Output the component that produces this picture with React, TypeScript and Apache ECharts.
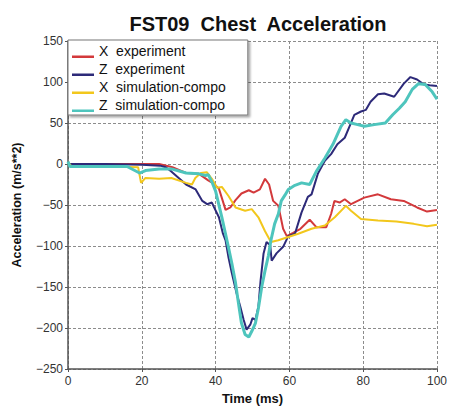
import React, { useEffect, useRef } from "react";
import * as echarts from "echarts";

const title = "FST09  Chest  Acceleration";
const seriesNames = ["X  experiment", "Z  experiment", "X  simulation-compo", "Z  simulation-compo"];
const seriesColors = ["#d3393b", "#2d2a79", "#f2c71c", "#4ec5bd"];
const seriesWidths = [2, 2, 2, 3];

// [time (ms), acceleration (m/s**2)]
const xExperiment: number[][] = [
  [0, 0], [10, 0], [20, 0], [24.7, 0], [28.3, -4], [32, -11], [35.5, -12], [38, -20], [39.5, -24],
  [40.9, -30], [42.7, -56], [44, -53], [45.4, -44], [47, -36], [49, -32], [50.3, -35], [52, -31],
  [53.4, -18], [54.5, -25], [55.6, -45], [57, -51], [58.3, -79], [59.3, -88], [61, -84], [63, -79],
  [65.5, -68], [67.3, -77], [70, -77], [71.3, -61], [72.2, -45], [73.6, -47], [75, -43], [76.7, -49],
  [80.3, -41], [84, -37], [87.5, -43], [91, -45], [94.6, -53], [97.3, -58], [100, -56],
];

const zExperiment: number[][] = [
  [0, 0], [10, 0], [20, -1], [25, -2], [26.5, -4], [28, -9], [30, -17], [32, -25], [34.6, -31],
  [36.4, -45], [37.7, -49], [39, -47], [39.5, -52], [40.9, -65], [42, -85], [42.7, -93], [43.5, -114],
  [44.4, -133], [45.7, -158], [46.7, -174], [47.6, -190], [48.4, -202], [49.4, -196], [50, -188],
  [50.8, -190], [51.6, -174], [52.2, -142], [53, -109], [53.8, -95], [54.8, -99], [55.2, -118],
  [56.5, -109], [58.3, -101], [59.7, -88], [61.5, -85], [63.3, -59], [65, -40], [66, -37], [67.7, -12],
  [69.6, 4], [71.3, 12], [73, 24], [75, 32], [76.3, 46], [77.6, 60], [79.4, 64], [80.7, 66], [82, 76],
  [84, 85], [85.7, 86], [88.4, 82], [91, 98], [92.8, 106], [94.6, 103], [96.5, 97], [98, 96], [100, 95],
];

const xSimulation: number[][] = [
  [0, 2], [1, -3], [10, -3], [19, -4], [19.8, -23], [21, -17], [24.7, -18], [28, -17], [32, -23],
  [33.6, -25], [34.5, -17], [36, -11], [37.6, -10], [39, -18], [40.4, -29], [41.7, -28], [43.5, -39],
  [45.4, -53], [48, -57], [49.8, -55], [51.6, -65], [53.4, -82], [55, -95], [57, -93], [59.7, -89],
  [62.4, -85], [66, -79], [69.6, -75], [72.3, -65], [75.3, -51], [76.7, -57], [79.4, -67], [84, -69],
  [89, -70], [93.7, -73], [97.3, -76], [100, -74],
];

const zSimulation: number[][] = [
  [0, 3], [0.5, -3], [10, -3], [16, -3], [19.4, -11], [21, -8], [24.7, -6], [28, -6], [32, -11],
  [35.5, -12], [37.3, -14], [38, -13], [39, -22], [40, -33], [41.7, -65], [43.5, -102], [44.4, -121],
  [45.4, -145], [46.2, -170], [47, -194], [48, -208], [49, -211], [49.8, -204], [50.8, -194],
  [51.6, -176], [52.5, -150], [53.4, -130], [54.3, -112], [55, -93], [56, -73], [57, -61], [57.8, -45],
  [58.8, -38], [59.7, -31], [61.5, -26], [63.3, -23], [65.5, -25], [67.3, -9], [69.6, 7], [71.8, 24],
  [74, 46], [75.3, 54], [76.7, 50], [78.5, 48], [80.3, 46], [83, 48], [86, 50], [88, 60], [89.8, 68],
  [91.4, 76], [93.3, 91], [95, 98], [96.8, 97], [98.7, 88], [100, 79],
];

const seriesData = [xExperiment, zExperiment, xSimulation, zSimulation];

const FONT = "'Liberation Sans', Arial, sans-serif";

export default function App() {
  const ref = useRef<HTMLDivElement>(null);
  useEffect(() => {
    if (!ref.current) return;
    const chart = echarts.init(ref.current, null, { renderer: "svg" });
    chart.setOption({
      animation: false,
      backgroundColor: "#ffffff",
      textStyle: { fontFamily: FONT },
      title: {
        text: title,
        left: 253,
        top: 9,
        textAlign: "center",
        textStyle: { fontSize: 20, fontWeight: "bold", color: "#111", fontFamily: FONT },
      },
      legend: {
        orient: "vertical",
        left: 68,
        top: 40,
        padding: [4, 22, 3, 4],
        itemGap: 4,
        itemWidth: 22,
        itemHeight: 14,
        symbolKeepAspect: false,
        icon: "path://M0,0L22,0L22,0.01L0,0.01Z M0,12L22,12L22,14.6L0,14.6Z",
        backgroundColor: "#ffffff",
        borderColor: "#777",
        borderWidth: 1,
        shadowColor: "rgba(0,0,0,0.35)",
        shadowBlur: 2,
        shadowOffsetX: 2,
        shadowOffsetY: 2,
        textStyle: { fontSize: 14, color: "#111", fontFamily: FONT },
        data: seriesNames,
      },
      grid: { left: 68, right: 10, top: 41, bottom: 39, containLabel: false },
      xAxis: {
        type: "value",
        min: 0,
        max: 100,
        interval: 20,
        name: "Time (ms)",
        nameLocation: "middle",
        nameGap: 23,
        nameTextStyle: { fontSize: 13, fontWeight: "bold", color: "#111", fontFamily: FONT },
        axisLine: { show: true, onZero: false, lineStyle: { color: "#555", width: 1.5 } },
        axisTick: { show: true, length: 3, lineStyle: { color: "#555" } },
        axisLabel: { fontSize: 12, color: "#333", margin: 6, fontFamily: FONT },
        splitLine: { show: true, lineStyle: { color: "#8c8c8c", type: [3, 2], width: 1 } },
      },
      yAxis: {
        type: "value",
        min: -250,
        max: 150,
        interval: 50,
        name: "Acceleration (m/s**2)",
        nameLocation: "middle",
        nameGap: 45,
        nameTextStyle: { fontSize: 12.5, fontWeight: "bold", color: "#111", fontFamily: FONT },
        axisLine: { show: true, onZero: false, lineStyle: { color: "#555", width: 1.5 } },
        axisTick: { show: true, length: 3, lineStyle: { color: "#555" } },
        axisLabel: {
          fontSize: 12,
          color: "#333",
          margin: 5,
          fontFamily: FONT,
          formatter: (v: number) => String(v).replace("-", "\u2212"),
        },
        splitLine: { show: true, lineStyle: { color: "#8c8c8c", type: [3, 2], width: 1 } },
      },
      series: seriesNames.map((name, i) => ({
        name,
        type: "line",
        data: seriesData[i],
        showSymbol: false,
        symbol: "none",
        color: seriesColors[i],
        lineStyle: { color: seriesColors[i], width: seriesWidths[i] },
        z: 2 + i,
      })),
    });
    return () => chart.dispose();
  }, []);
  return <div ref={ref} style={{ width: 450, height: 410, position: "absolute", left: 0, top: 0 }} />;
}
